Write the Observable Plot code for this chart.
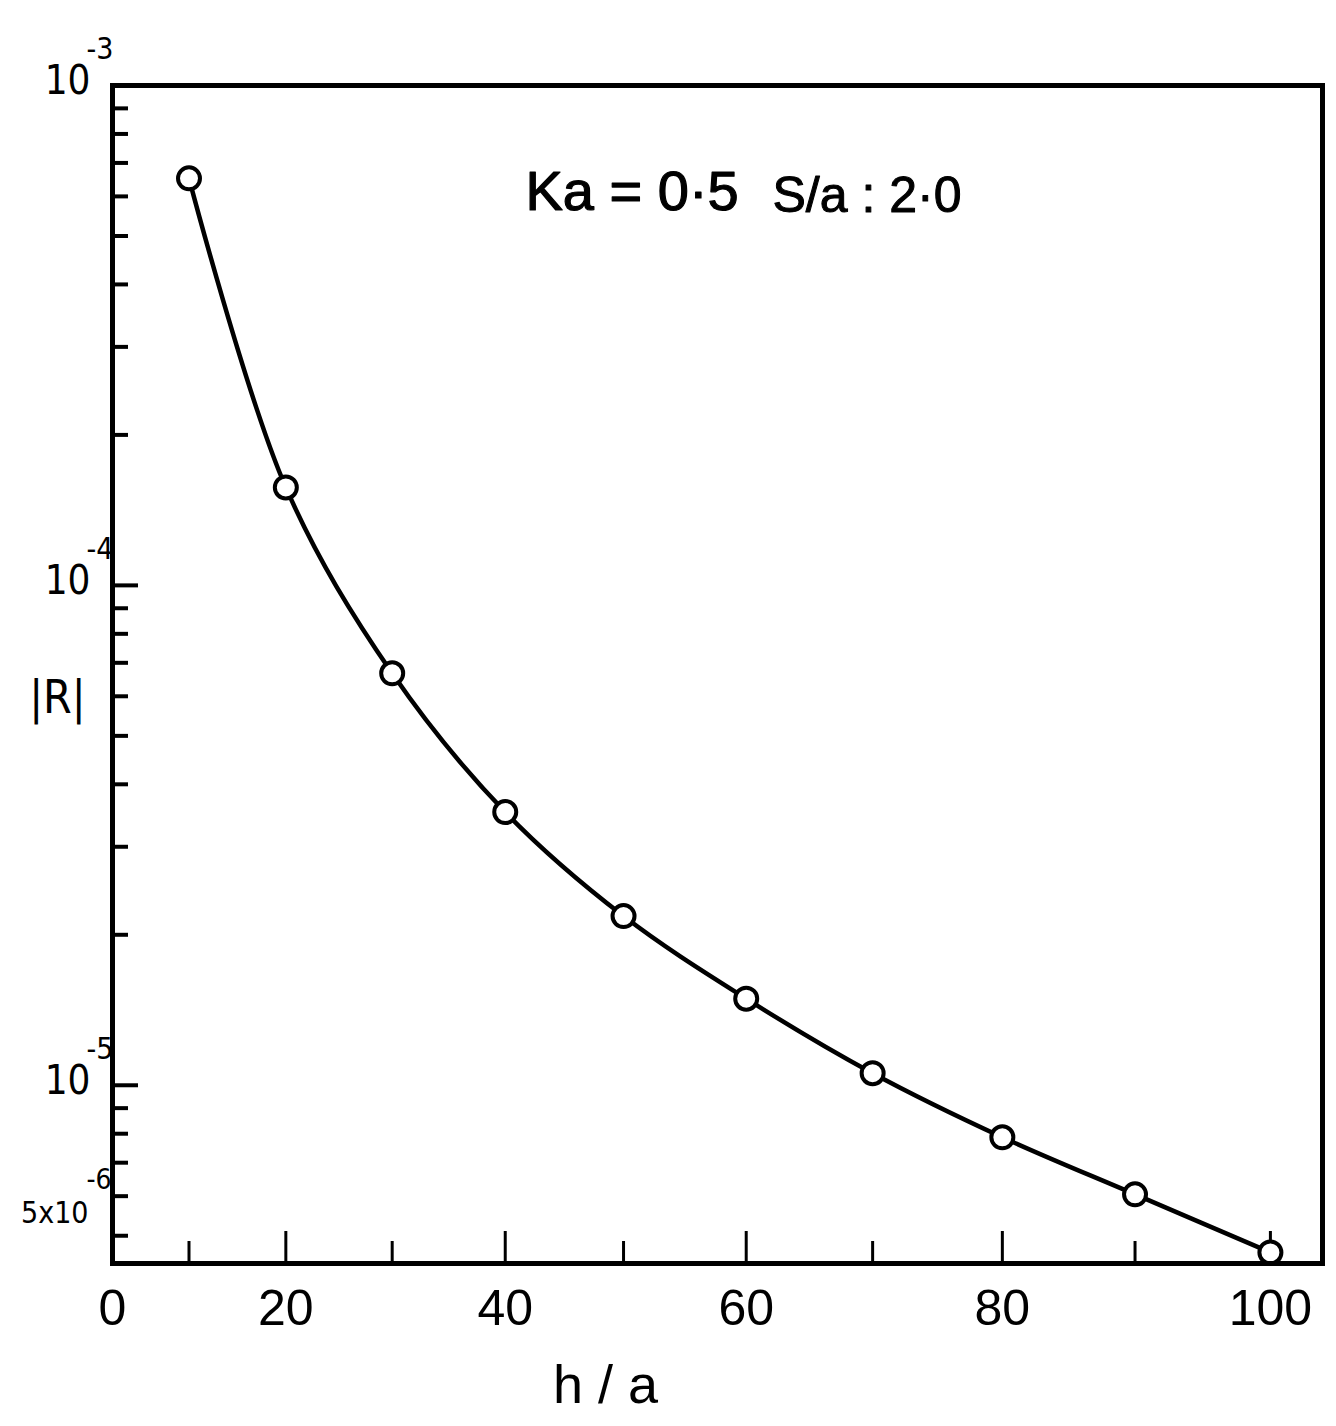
<!DOCTYPE html>
<html>
<head>
<meta charset="utf-8">
<script src="https://cdn.jsdelivr.net/npm/d3@7"></script>
<script src="https://cdn.jsdelivr.net/npm/@observablehq/plot@0.6"></script>
<style>
  body { margin: 0; background: #fff; }
  svg { display: block; }
</style>
</head>
<body>
<div id="chart"></div>
<script>
// ---- data ----
const hOverA = [10, 20, 30, 40, 50, 60, 70, 80, 90, 100];
const absR = [6.52e-4, 1.57e-4, 6.67e-5, 3.52e-5, 2.18e-5, 1.49e-5, 1.057e-5, 7.87e-6, 6.05e-6, 4.63e-6];

// ---- axis ticks and labels ----
const xLabelTicks = [0, 20, 40, 60, 80, 100];
const xMajorTicks = [20, 40, 60, 80, 100];
const xMinorTicks = [10, 30, 50, 70, 90];
const yMajorTicks = [1e-3, 1e-4, 1e-5];
const yMinorTicks = [9e-4, 8e-4, 7e-4, 6e-4, 5e-4, 4e-4, 3e-4, 2e-4,
                     9e-5, 8e-5, 7e-5, 6e-5, 5e-5, 4e-5, 3e-5, 2e-5,
                     9e-6, 8e-6, 7e-6, 6e-6, 5e-6];
const yPowerTicks = [1e-3, 1e-4, 1e-5];
const yPowerBase = ["10", "10", "10"];
const yPowerExp = ["-3", "-4", "-5"];
const yExtraTicks = [5e-6];
const yExtraBase = ["5x10"];
const yExtraExp = ["-6"];
const yAxisLabel = "|R|";
const xAxisLabel = "h / a";
const noteLeft = "Ka = 0·5";
const noteRight = "S/a : 2·0";

// ---- layout ----
const W = 1336, H = 1426;
const mL = 112, mR = 14, mT = 85, mB = 163;
const plotW = W - mL - mR, plotH = H - mT - mB;
const font = "'Liberation Sans', Arial, sans-serif";
const narrow = "'Liberation Sans Narrow', 'DejaVu Sans Condensed', 'Liberation Sans', sans-serif";

const points = hOverA.map((x, i) => ({x, y: absR[i]}));

const chart = Plot.plot({
  width: W,
  height: H,
  marginLeft: mL,
  marginRight: mR,
  marginTop: mT,
  marginBottom: mB,
  style: {background: "white", color: "black", fontFamily: font},
  x: {type: "pow", exponent: 1.18, domain: [0, 103.8]},
  y: {type: "log", domain: [4.4e-6, 1e-3], axis: null},
  marks: [
    // inward ticks on the left axis
    Plot.tickY(yMajorTicks, {y: d => d, stroke: "black", strokeWidth: 4, insetRight: plotW - 26}),
    Plot.tickY(yMinorTicks, {y: d => d, stroke: "black", strokeWidth: 4, insetRight: plotW - 16}),
    // inward ticks on the bottom axis
    Plot.tickX(xMajorTicks, {x: d => d, stroke: "black", strokeWidth: 3, insetTop: plotH - 32}),
    Plot.tickX(xMinorTicks, {x: d => d, stroke: "black", strokeWidth: 3, insetTop: plotH - 22}),
    // x tick labels
    Plot.axisX(xLabelTicks, {tickSize: 0, tickPadding: 26, fontSize: 50, label: null, tickFormat: d => String(d)}),
    // y tick labels (base and exponent)
    Plot.text(yPowerTicks, {y: d => d, text: (d, i) => yPowerBase[i], frameAnchor: "left", textAnchor: "end", dx: -22, dy: -4, fontSize: 40, fill: "black", fontFamily: narrow}),
    Plot.text(yPowerTicks, {y: d => d, text: (d, i) => yPowerExp[i], frameAnchor: "left", textAnchor: "start", dx: -26, dy: -36, fontSize: 30, fill: "black", fontFamily: narrow}),
    Plot.text(yExtraTicks, {y: d => d, text: (d, i) => yExtraBase[i], frameAnchor: "left", textAnchor: "end", dx: -24, dy: -22, fontSize: 30, fill: "black", fontFamily: narrow}),
    Plot.text(yExtraTicks, {y: d => d, text: (d, i) => yExtraExp[i], frameAnchor: "left", textAnchor: "start", dx: -26, dy: -56, fontSize: 28, fill: "black", fontFamily: narrow}),
    // axis titles
    Plot.text([yAxisLabel], {text: d => d, frameAnchor: "left", dx: -55, dy: 24, textAnchor: "middle", fontSize: 46, fill: "black", fontFamily: narrow}),
    Plot.text([xAxisLabel], {text: d => d, frameAnchor: "bottom-left", dx: 493, dy: 122, textAnchor: "middle", lineAnchor: "middle", fontSize: 54, fill: "black"}),
    // annotation
    Plot.text([noteLeft], {text: d => d, frameAnchor: "top-left", dx: 413, dy: 107, textAnchor: "start", lineAnchor: "middle", fontSize: 56, fill: "black", stroke: "black", strokeWidth: 1.2}),
    Plot.text([noteRight], {text: d => d, frameAnchor: "top-left", dx: 660, dy: 110, textAnchor: "start", lineAnchor: "middle", fontSize: 50, fill: "black", stroke: "black", strokeWidth: 1}),
    // the curve and its points
    Plot.line(points, {x: "x", y: "y", curve: "catmull-rom", stroke: "black", strokeWidth: 4.5}),
    Plot.dot(points, {x: "x", y: "y", r: 11, fill: "white", stroke: "black", strokeWidth: 4}),
    Plot.frame({stroke: "black", strokeWidth: 5})
  ]
});

document.getElementById("chart").appendChild(chart);
</script>
</body>
</html>
